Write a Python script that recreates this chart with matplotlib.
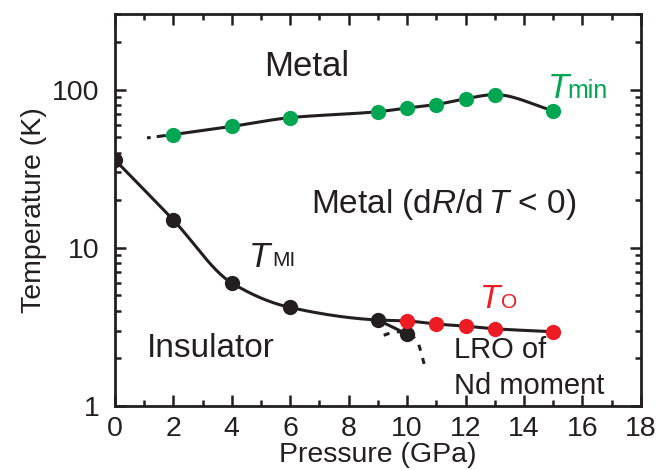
import numpy as np
import matplotlib
matplotlib.use('Agg')
import matplotlib.pyplot as plt
from matplotlib.ticker import LogLocator, NullFormatter, MultipleLocator

plt.rcParams['font.family'] = ['Liberation Sans', 'DejaVu Sans']
plt.rcParams['mathtext.fontset'] = 'custom'
plt.rcParams['mathtext.rm'] = 'Liberation Sans'
plt.rcParams['mathtext.it'] = 'Liberation Sans:italic'

# Data
p_min = [2, 4, 6, 9, 10, 11, 12, 13, 15]
t_min = [52, 58.5, 66.5, 72.5, 76.5, 80.5, 87.5, 93, 73.5]

p_mi = [0, 2, 4, 6, 9, 10]
t_mi = [36, 15, 6.0, 4.2, 3.5, 2.85]

p_o = [10, 11, 12, 13, 15]
t_o = [3.45, 3.3, 3.2, 3.08, 2.95]

# guide for the LRO boundary (dotted) and the low-pressure end of Tmin (dashed)
p_lro = [9.2, 9.6, 10.0, 10.35, 10.6]
t_lro = [2.8, 2.95, 2.9, 2.55, 1.8]
p_stub = [1.1, 2.0]
t_stub = [49.5, 52]

green = '#00a651'
red = '#ed1c24'
black = '#231f20'


def smooth(x, y, n=200):
    # monotone cubic hermite through points, done in log(y)
    x = np.asarray(x, float)
    ly = np.log10(y)
    h = np.diff(x)
    d = np.diff(ly) / h
    m = np.zeros_like(x)
    m[0], m[-1] = d[0], d[-1]
    for i in range(1, len(x) - 1):
        if d[i - 1] * d[i] <= 0:
            m[i] = 0
        else:
            w1 = 2 * h[i] + h[i - 1]
            w2 = h[i] + 2 * h[i - 1]
            m[i] = (w1 + w2) / (w1 / d[i - 1] + w2 / d[i])
    xs = np.linspace(x[0], x[-1], n)
    k = np.clip(np.searchsorted(x, xs) - 1, 0, len(x) - 2)
    t = (xs - x[k]) / h[k]
    h00 = 2 * t**3 - 3 * t**2 + 1
    h10 = t**3 - 2 * t**2 + t
    h01 = -2 * t**3 + 3 * t**2
    h11 = t**3 - t**2
    ys = h00 * ly[k] + h10 * h[k] * m[k] + h01 * ly[k + 1] + h11 * h[k] * m[k + 1]
    return xs, 10**ys


fig = plt.figure(figsize=(6.6, 4.7), dpi=100)
ax = fig.add_axes([0.174, 0.136, 0.797, 0.834])

# guide lines
xs, ys = smooth(p_min, t_min)
ax.plot(xs, ys, color=black, lw=2.2, zorder=2)
ax.plot(p_stub, t_stub, color=black, lw=2.2, dashes=(1.2, 2, 3, 2), zorder=2)

xs, ys = smooth(p_mi[:5] + p_o, t_mi[:5] + t_o)
ax.plot(xs, ys, color=black, lw=2.2, zorder=2)
ax.plot(p_mi[4:], t_mi[4:], color=black, lw=2.2, zorder=2)

xs, ys = smooth(p_lro, t_lro)
ax.plot(xs, ys, color=black, lw=2.2, dashes=(2, 2.5), zorder=2)

# data points
ax.plot(p_min, t_min, 'o', color=green, ms=11, mew=0, zorder=3)
ax.plot(p_mi, t_mi, 'o', color=black, ms=11, mew=0, zorder=3)
ax.plot(p_o, t_o, 'o', color=red, ms=11, mew=0, zorder=4)

ax.set_yscale('log')
ax.set_xlim(0, 18)
ax.set_ylim(1, 300)
ax.xaxis.set_major_locator(MultipleLocator(2))
ax.xaxis.set_minor_locator(MultipleLocator(1))
ax.yaxis.set_minor_locator(LogLocator(base=10, subs=np.arange(2, 10), numticks=20))
ax.yaxis.set_minor_formatter(NullFormatter())
ax.set_yticks([1, 10, 100])
ax.set_yticklabels(['1', '10', '100'])

ax.tick_params(which='both', direction='in', top=True, right=True,
               width=1.8, labelsize=20.5, colors=black)
ax.tick_params(axis='x', pad=7)
ax.tick_params(axis='y', pad=11)
ax.tick_params(which='major', length=8)
ax.tick_params(which='minor', length=4.5)
for s in ax.spines.values():
    s.set_linewidth(2)
    s.set_color(black)

ax.set_xlabel('Pressure (GPa)', fontsize=20.5, color=black, labelpad=0)
ax.set_ylabel('Temperature (K)', fontsize=20.5, color=black, labelpad=4)

# region labels
ax.text(5.1, 121, 'Metal', fontsize=25, ha='left', va='baseline', color=black)
ax.text(6.72, 16.6, r'Metal (d$R$/d$\,T$ < 0)', fontsize=24, ha='left',
        va='baseline', color=black)
ax.text(1.1, 2.05, 'Insulator', fontsize=24, ha='left', va='baseline', color=black)
ax.text(11.6, 2.0, 'LRO of', fontsize=21, ha='left', va='baseline', color=black)
ax.text(11.6, 1.2, 'Nd moment', fontsize=21, ha='left', va='baseline', color=black)

# temperature labels
ax.text(4.59, 7.6, 'T', fontsize=25, fontstyle='italic', ha='left', va='baseline',
        color=black)
ax.text(5.38, 7.7, 'MI', fontsize=15, ha='left', va='baseline', color=black)
ax.text(12.5, 4.15, 'T', fontsize=24, fontstyle='italic', ha='left', va='baseline',
        color=red)
ax.text(13.22, 4.15, 'O', fontsize=15, ha='left', va='baseline', color=red)
ax.text(14.83, 89, 'T', fontsize=25, fontstyle='italic', ha='left', va='baseline',
        color=green)
ax.text(15.5, 89, 'min', fontsize=18, ha='left', va='baseline', color=green)

fig.savefig('out.png', dpi=100)
